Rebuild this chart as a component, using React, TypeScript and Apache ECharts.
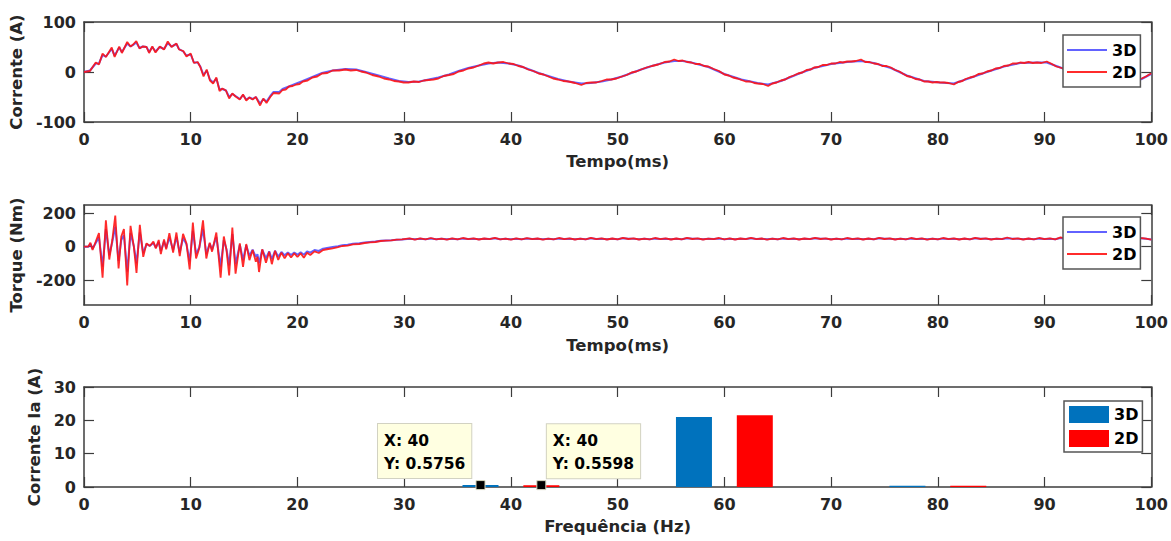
import React, { useEffect, useRef } from "react";
import * as echarts from "echarts";

// ---------- Phase current (A) vs time (ms) ----------
const current2D: [number, number][] = [
  [0, 0], [0.56, 2], [1.1, 19], [1.4, 15], [1.74, 37], [2.05, 30], [2.6, 49], [2.87, 30], [3.3, 51], [3.55, 38],
  [4.05, 60], [4.36, 51], [4.6, 55], [4.9, 62], [5.2, 47], [5.5, 51], [5.86, 50], [6.1, 38], [6.4, 51], [6.7, 39],
  [7.1, 51], [7.5, 45], [7.85, 61], [8.2, 50], [8.66, 57], [8.9, 45], [9.3, 42], [9.6, 31], [10.0, 37], [10.3, 18],
  [10.65, 20], [10.9, 10], [11.2, -9], [11.5, 5], [11.8, -17], [12.1, -23], [12.4, -11], [12.7, -38], [12.96, -33], [13.3, -37],
  [13.6, -53], [13.9, -43], [14.2, -49], [14.6, -55], [14.9, -45], [15.2, -57], [15.5, -51], [15.8, -55], [16.1, -50], [16.5, -67],
  [16.8, -53], [17.1, -62], [17.45, -50], [17.76, -42], [18.3, -43], [18.6, -36], [18.9, -35], [19.2, -29], [19.55, -28], [19.9, -25],
  [20.2, -24], [20.5, -19], [20.95, -17], [21.4, -11], [21.85, -9], [22.3, -3], [22.8, -2], [23.3, 3], [23.9, 3], [24.5, 5],
  [25.0, 3], [25.5, 4], [25.95, 1], [26.4, -1], [27.0, -6], [27.6, -9], [28.1, -13], [28.6, -15], [29.05, -18], [29.5, -19],
  [29.95, -21], [30.4, -21], [30.9, -19], [31.4, -20], [31.85, -17], [32.3, -16], [32.75, -15], [33.2, -13], [33.7, -8], [34.2, -6],
  [34.65, -4], [35.1, 1], [35.55, 3], [36.0, 7], [36.5, 9], [37.0, 13], [37.45, 17], [37.9, 19], [38.35, 17], [38.8, 19],
  [39.3, 20], [39.8, 17], [40.25, 16], [40.7, 12], [41.15, 10], [41.6, 5], [42.1, 2], [42.6, -3], [43.05, -5], [43.5, -9],
  [43.95, -13], [44.4, -15], [44.9, -18], [45.4, -19], [46.0, -22], [46.6, -26], [47.05, -22], [47.5, -21], [48.0, -21], [48.5, -18],
  [48.95, -15], [49.4, -15], [49.9, -13], [50.4, -9], [50.85, -6], [51.3, -1], [51.75, 1], [52.2, 5], [52.7, 9], [53.2, 12],
  [53.8, 15], [54.4, 20], [54.85, 21], [55.3, 25], [55.7, 22], [56.1, 23], [56.5, 20], [56.9, 19], [57.3, 16], [57.7, 16],
  [58.1, 12], [58.5, 11], [59.0, 6], [59.5, 2], [60.0, -5], [60.4, -7], [60.8, -11], [61.2, -13], [61.6, -16], [62.0, -19],
  [62.4, -19], [62.8, -22], [63.1, -23], [63.6, -24], [64.1, -28], [64.5, -23], [64.9, -21], [65.3, -17], [65.7, -15], [66.1, -10],
  [66.5, -7], [66.9, -3], [67.3, -1], [67.7, 4], [68.1, 5], [68.4, 9], [68.8, 10], [69.2, 14], [69.6, 14], [70.0, 17],
  [70.4, 17], [70.8, 20], [71.1, 19], [71.5, 21], [71.9, 21], [72.3, 22], [72.8, 25], [73.2, 20], [73.6, 20], [74.0, 17],
  [74.4, 16], [74.8, 12], [75.2, 12], [75.6, 9], [76.0, 4], [76.4, 1], [76.7, -3], [77.1, -8], [77.5, -10], [77.9, -14],
  [78.3, -15], [78.7, -19], [79.1, -19], [79.5, -21], [79.9, -20], [80.2, -21], [80.6, -21], [81.0, -22], [81.5, -25], [81.9, -20],
  [82.3, -18], [82.6, -14], [83.0, -11], [83.4, -9], [83.8, -4], [84.2, -3], [84.6, 1], [85.0, 3], [85.4, 7], [85.8, 8],
  [86.2, 12], [86.6, 13], [87.0, 17], [87.4, 17], [87.7, 19], [88.1, 18], [88.5, 20], [88.9, 18], [89.3, 19], [89.7, 18],
  [90.2, 21], [90.6, 17], [91.1, 11], [91.6, 8], [92.1, 3], [92.5, 0], [93.0, -3], [93.5, -8], [94.0, -12], [94.5, -15],
  [95.0, -18], [95.5, -20], [96.0, -21], [96.5, -23], [97.0, -24], [97.5, -22], [98.0, -22], [98.3, -20], [98.7, -16], [99.1, -13],
  [99.5, -9], [99.8, -5], [100, -3],
];

const current3D: [number, number][] = [
  [0, 0], [0.56, 3], [1.1, 17], [1.4, 17], [1.74, 34], [2.05, 31], [2.6, 46], [2.87, 33], [3.3, 49], [3.55, 40],
  [4.05, 57], [4.36, 51], [4.6, 54], [4.9, 59], [5.2, 48], [5.5, 51], [5.86, 50], [6.1, 40], [6.4, 50], [6.7, 41],
  [7.1, 50], [7.5, 46], [7.85, 58], [8.2, 51], [8.66, 56], [8.9, 46], [9.3, 41], [9.6, 33], [10.0, 35], [10.3, 19],
  [10.65, 19], [10.9, 11], [11.2, -6], [11.5, 3], [11.8, -15], [12.1, -21], [12.4, -13], [12.7, -35], [12.96, -34], [13.3, -37],
  [13.6, -50], [13.9, -44], [14.2, -48], [14.6, -54], [14.9, -46], [15.2, -55], [15.5, -51], [15.8, -54], [16.1, -50], [16.5, -63],
  [16.8, -54], [17.1, -59], [17.45, -48], [17.76, -40], [18.3, -40], [18.6, -34], [19.2, -29], [19.9, -23], [20.5, -18], [21.4, -10],
  [22.3, -2], [23.3, 3], [24.5, 6], [25.5, 5], [26.4, 0], [27.6, -7], [28.6, -13], [29.5, -18], [30.4, -20], [31.4, -19],
  [32.3, -15], [33.2, -11], [34.2, -5], [35.1, 2], [36.0, 8], [37.0, 13], [37.9, 17], [38.8, 19], [39.8, 17], [40.7, 13],
  [41.6, 6], [42.6, -2], [43.5, -8], [44.4, -14], [45.4, -19], [46.6, -23], [47.5, -22], [48.5, -19], [49.4, -15], [50.4, -9],
  [51.3, -2], [52.2, 5], [53.2, 12], [54.4, 19], [55.3, 22], [56.1, 22], [56.9, 19], [58.5, 10], [60.0, -4], [61.6, -15],
  [63.1, -22], [64.1, -25], [65.3, -18], [66.9, -4], [68.4, 8], [70.0, 16], [71.5, 20], [72.8, 22], [74.0, 18], [75.6, 8],
  [77.1, -7], [78.7, -18], [80.2, -21], [81.5, -23], [83.0, -12], [84.6, 0], [86.2, 11], [87.7, 18], [89.3, 19], [90.2, 19],
  [91.1, 12], [92.5, 1], [94.0, -11], [95.5, -19], [97.0, -23], [98.3, -20], [99.1, -14], [99.8, -6], [100, -4],
];

// ---------- Torque (Nm) vs time (ms) ----------
// start-up transient, irregular sampling
const torqueHead2D: [number, number][] = [
  [0, 0], [0.4, 0], [0.6, 24], [0.8, -20], [1.1, 30], [1.4, 81], [1.74, -186], [2.05, 158], [2.37, -77], [2.65, 40],
  [2.93, 186], [3.24, -131], [3.49, 61], [3.74, 105], [4.05, -232], [4.36, 125], [4.67, 0], [4.92, -158], [5.23, 131], [5.55, -61],
  [5.86, 20], [6.17, 4], [6.5, 30], [6.73, -10], [7.0, 40], [7.2, -44], [7.5, 44], [7.7, -16], [8.0, 81], [8.35, -36],
  [8.66, 85], [8.97, -57], [9.28, 77], [9.6, 20], [9.9, -137], [10.2, 145], [10.5, -71], [10.8, -10], [11.15, 158], [11.46, -71],
  [11.78, 24], [12.0, -30], [12.4, 85], [12.8, -186], [13.1, 61], [13.35, -20], [13.6, -172], [13.9, 115], [14.2, -162], [14.6, 20],
  [14.9, -121], [15.2, 16], [15.5, -81], [15.8, -20], [16.1, -91], [16.25, -60], [16.4, -152], [16.7, -16], [17.05, -97], [17.35, -30],
  [17.6, -105], [17.9, -25], [18.2, -80], [18.5, -36], [18.8, -70], [19.1, -40], [19.4, -65], [19.7, -40], [20.0, -62], [20.3, -40],
  [20.6, -66], [20.9, -36], [21.2, -50], [21.6, -28], [22.0, -38], [22.4, -20], [22.9, -14], [23.3, -10], [23.8, -3], [24.2, 4],
  [24.7, 6], [25.2, 14], [25.8, 16], [26.3, 22], [26.8, 26], [27.3, 28], [27.8, 34], [28.3, 36], [28.8, 38], [29.3, 42],
  [29.8, 44],
];

const torqueHead3D: [number, number][] = [
  [0, 0], [0.4, 0], [0.6, 16], [0.8, -12], [1.1, 22], [1.4, 55], [1.74, -120], [2.05, 105], [2.37, -50], [2.65, 28],
  [2.93, 120], [3.24, -85], [3.49, 40], [3.74, 70], [4.05, -150], [4.36, 82], [4.67, 2], [4.92, -100], [5.23, 86], [5.55, -38],
  [5.86, 15], [6.17, 5], [6.5, 22], [6.73, -5], [7.0, 28], [7.2, -26], [7.5, 32], [7.7, -8], [8.0, 55], [8.35, -20],
  [8.66, 58], [8.97, -35], [9.28, 52], [9.6, 15], [9.9, -88], [10.2, 95], [10.5, -45], [10.8, -5], [11.15, 105], [11.46, -45],
  [11.78, 18], [12.0, -18], [12.4, 58], [12.8, -120], [13.1, 40], [13.35, -15], [13.6, -112], [13.9, 75], [14.2, -105], [14.6, 12],
  [14.9, -80], [15.2, 8], [15.5, -55], [15.8, -18], [16.1, -62], [16.25, -45], [16.4, -100], [16.7, -18], [17.05, -70], [17.35, -28],
  [17.6, -75], [17.9, -25], [18.2, -60], [18.5, -32], [18.8, -52], [19.1, -35], [19.4, -50], [19.7, -35], [20.0, -48], [20.3, -33],
  [20.6, -48], [20.9, -28], [21.2, -36], [21.6, -20], [22.0, -26], [22.4, -12], [22.9, -6], [23.3, -2], [23.8, 3], [24.2, 8],
  [24.7, 12], [25.2, 17], [25.8, 21], [26.3, 25], [26.8, 28], [27.3, 31], [27.8, 35], [28.3, 37], [28.8, 39], [29.3, 42],
  [29.8, 43],
];

// steady-state ripple, sampled every 0.5 ms from 30.5 ms to 100 ms
const torqueTailStart = 30.5;
const torqueTailStep = 0.5;
const torqueTail2D = [
  50, 42, 50, 44, 52, 44, 48, 42, 50, 44,
  52, 45, 50, 43, 49, 45, 53, 44, 48, 42,
  50, 44, 51, 45, 49, 42, 48, 44, 52, 45,
  50, 43, 48, 44, 53, 45, 50, 43, 49, 44,
  53, 46, 50, 43, 48, 44, 52, 45, 50, 43,
  49, 44, 53, 46, 50, 43, 48, 45, 52, 44,
  50, 43, 49, 45, 53, 45, 49, 42, 48, 44,
  52, 45, 50, 43, 49, 45, 53, 46, 50, 43,
  48, 44, 52, 45, 50, 43, 49, 44, 53, 46,
  50, 43, 48, 44, 52, 45, 50, 42, 48, 44,
  52, 45, 50, 43, 49, 44, 53, 46, 50, 43,
  48, 45, 55, 46, 50, 43, 49, 44, 52, 45,
  50, 44, 56, 48, 58, 50, 55, 46, 52, 45,
  50, 46, 54, 48, 56, 50, 58, 52, 48, 42,
];
const torqueTail3D = [
  47, 44, 48, 45, 49, 45, 47, 44, 48, 45,
  49, 46, 48, 45, 48, 46, 50, 45, 47, 44,
  48, 45, 49, 46, 48, 44, 47, 45, 49, 46,
  48, 45, 47, 45, 50, 46, 48, 45, 48, 45,
  50, 47, 48, 45, 47, 45, 49, 46, 48, 45,
  48, 45, 50, 47, 48, 45, 47, 46, 49, 45,
  48, 45, 48, 46, 50, 46, 48, 44, 47, 45,
  49, 46, 48, 45, 48, 46, 50, 47, 48, 45,
  47, 45, 49, 46, 48, 45, 48, 45, 50, 47,
  48, 45, 47, 45, 49, 46, 48, 44, 47, 45,
  49, 46, 48, 45, 48, 45, 50, 47, 48, 45,
  47, 46, 51, 47, 48, 45, 48, 45, 49, 46,
  48, 45, 52, 48, 54, 49, 52, 47, 50, 46,
  48, 46, 51, 48, 53, 49, 55, 51, 47, 43,
];

// ---------- Harmonic spectrum of phase current Ia ----------
const freqs = [40, 60, 80];
const ia3D = [0.5756, 21.0, 0.4];
const ia2D = [0.5598, 21.5, 0.4];
const tipFreq = 40;

// ---------- tick labels / names ----------
const timeTicks = { min: 0, max: 100, step: 10 };
const torqueTickValues = [-200, 0, 200];

const FONT = '"DejaVu Sans", sans-serif';
const AXIS_COLOR = "#3c3c3c";
const TEXT_COLOR = "#262626";
const BLUE_LINE = "rgba(70, 70, 255, 0.85)";
const RED_LINE = "rgba(255, 20, 20, 0.9)";
const BAR_BLUE = "#0072BD";
const BAR_RED = "#FF0000";

const withTail = (head: [number, number][], tail: number[]): [number, number][] =>
  head.concat(tail.map((v, i) => [torqueTailStart + i * torqueTailStep, v] as [number, number]));

const GRID_LEFT = 84;
const GRID_WIDTH = 1071;
const grids = [
  { left: GRID_LEFT, top: 22, width: GRID_WIDTH, height: 100 },
  { left: GRID_LEFT, top: 205, width: GRID_WIDTH, height: 100 },
  { left: GRID_LEFT, top: 387, width: GRID_WIDTH, height: 100 },
];

const lineStyleAxis = { color: AXIS_COLOR, width: 1.5 };
const tickStyle = { show: true, inside: true, length: 10, lineStyle: { color: AXIS_COLOR, width: 1.2 } };
const labelStyle = { fontFamily: FONT, fontWeight: "bold" as const, fontSize: 16, color: TEXT_COLOR };
const nameStyle = { fontFamily: FONT, fontWeight: "bold" as const, fontSize: 16.5, color: TEXT_COLOR };

function xAxisPair(gridIndex: number, name: string, nameGap: number) {
  return [
    {
      type: "value", gridIndex, position: "bottom",
      min: timeTicks.min, max: timeTicks.max, interval: timeTicks.step,
      name, nameLocation: "middle", nameGap, nameTextStyle: nameStyle,
      axisLine: { show: true, onZero: false, lineStyle: lineStyleAxis },
      axisTick: tickStyle,
      axisLabel: { ...labelStyle, margin: 9 },
      splitLine: { show: false },
    },
    {
      type: "value", gridIndex, position: "top",
      min: timeTicks.min, max: timeTicks.max, interval: timeTicks.step,
      axisLine: { show: true, onZero: false, lineStyle: lineStyleAxis },
      axisTick: tickStyle,
      axisLabel: { show: false },
      splitLine: { show: false },
    },
  ];
}

function yAxisPair(gridIndex: number, name: string, nameGap: number, scale: any) {
  return [
    {
      type: "value", gridIndex, position: "left", ...scale.axis,
      name, nameLocation: "middle", nameGap, nameRotate: 90, nameTextStyle: nameStyle,
      axisLine: { show: true, onZero: false, lineStyle: lineStyleAxis },
      axisTick: { ...tickStyle, ...(scale.tick || {}) },
      axisLabel: { ...labelStyle, margin: 8, ...(scale.label || {}) },
      splitLine: { show: false },
    },
    {
      type: "value", gridIndex, position: "right", ...scale.axis,
      axisLine: { show: true, onZero: false, lineStyle: lineStyleAxis },
      axisTick: { ...tickStyle, ...(scale.tick || {}) },
      axisLabel: { show: false },
      splitLine: { show: false },
    },
  ];
}

const legendBase = {
  orient: "vertical",
  selectedMode: false,
  backgroundColor: "#ffffff",
  borderColor: "#555555",
  borderWidth: 1.5,
  borderRadius: 0,
  itemWidth: 40,
  icon: "rect",
  formatter: (n: string) => n.split(" ").pop(),
  textStyle: { fontFamily: FONT, fontWeight: "bold" as const, fontSize: 16, color: "#000", lineHeight: 18 },
};

const tipLabel = {
  show: true,
  align: "left",
  verticalAlign: "top",
  backgroundColor: "#ffffe1",
  borderColor: "#d2d2c2",
  borderWidth: 1,
  padding: [5, 6, 3, 6],
  lineHeight: 23,
  fontFamily: FONT,
  fontWeight: "bold",
  fontSize: 15.5,
  color: "#000",
};

function buildOption() {
  const tipIdx = freqs.indexOf(tipFreq);
  const ia3DTip = ia3D[tipIdx];
  const ia2DTip = ia2D[tipIdx];
  return {
    animation: false,
    backgroundColor: "#ffffff",
    grid: grids,
    xAxis: [
      ...xAxisPair(0, "Tempo(ms)", 31),
      ...xAxisPair(1, "Tempo(ms)", 32),
      ...xAxisPair(2, "Frequência (Hz)", 31),
    ],
    yAxis: [
      ...yAxisPair(0, "Corrente (A)", 57, { axis: { min: -100, max: 100, interval: 100 } }),
      ...yAxisPair(1, "Torque (Nm)", 57, {
        axis: { min: -350, max: 250 },
        tick: { customValues: torqueTickValues },
        label: { customValues: torqueTickValues },
      }),
      ...yAxisPair(2, "Corrente Ia (A)", 39, { axis: { min: 0, max: 30, interval: 10 } }),
    ],
    legend: [
      {
        ...legendBase, left: 1063, top: 35, padding: [6, 4, 6, 4], itemHeight: 2, itemGap: 4,
        data: ["Corrente 3D", "Corrente 2D"],
      },
      {
        ...legendBase, left: 1063, top: 217, padding: [6, 4, 6, 4], itemHeight: 2, itemGap: 4,
        data: ["Torque 3D", "Torque 2D"],
      },
      {
        ...legendBase, left: 1064, top: 401, padding: [5, 4, 5, 5], itemHeight: 17, itemGap: 7,
        textStyle: { ...legendBase.textStyle, lineHeight: 17 },
        data: ["Ia 3D", "Ia 2D"],
      },
    ],
    series: [
      {
        name: "Corrente 3D", type: "line", xAxisIndex: 0, yAxisIndex: 0,
        data: current3D, symbol: "none", lineStyle: { color: BLUE_LINE, width: 2 }, itemStyle: { color: BLUE_LINE },
      },
      {
        name: "Corrente 2D", type: "line", xAxisIndex: 0, yAxisIndex: 0,
        data: current2D, symbol: "none", lineStyle: { color: RED_LINE, width: 1.8 }, itemStyle: { color: RED_LINE },
      },
      {
        name: "Torque 3D", type: "line", xAxisIndex: 2, yAxisIndex: 2,
        data: withTail(torqueHead3D, torqueTail3D), symbol: "none",
        lineStyle: { color: BLUE_LINE, width: 2 }, itemStyle: { color: BLUE_LINE },
      },
      {
        name: "Torque 2D", type: "line", xAxisIndex: 2, yAxisIndex: 2,
        data: withTail(torqueHead2D, torqueTail2D), symbol: "none",
        lineStyle: { color: RED_LINE, width: 1.8 }, itemStyle: { color: RED_LINE },
      },
      {
        name: "Ia 3D", type: "bar", xAxisIndex: 4, yAxisIndex: 4,
        data: freqs.map((f, i) => [f, ia3D[i]]),
        barWidth: 36, barGap: "69%", itemStyle: { color: BAR_BLUE },
        markPoint: {
          silent: true,
          symbol: "rect", symbolSize: 9,
          itemStyle: { color: "#000", borderColor: "#d8d8c0", borderWidth: 1 },
          label: { ...tipLabel, position: [-97.5, -56], formatter: `X: ${tipFreq}\nY: ${ia3DTip}` },
          data: [{ coord: [tipFreq, ia3DTip] }],
        },
      },
      {
        name: "Ia 2D", type: "bar", xAxisIndex: 4, yAxisIndex: 4,
        data: freqs.map((f, i) => [f, ia2D[i]]),
        barWidth: 36, barGap: "69%", itemStyle: { color: BAR_RED },
        markPoint: {
          silent: true,
          symbol: "rect", symbolSize: 9,
          itemStyle: { color: "#000", borderColor: "#d8d8c0", borderWidth: 1 },
          label: { ...tipLabel, position: [10.5, -56], formatter: `X: ${tipFreq}\nY: ${ia2DTip}` },
          data: [{ coord: [tipFreq, ia2DTip] }],
        },
      },
    ],
  };
}

export default function App() {
  const ref = useRef<HTMLDivElement>(null);
  useEffect(() => {
    if (!ref.current) return;
    const chart = echarts.init(ref.current, null, { renderer: "svg" });
    chart.setOption(buildOption() as any);
    return () => chart.dispose();
  }, []);
  return (
    <div
      ref={ref}
      style={{ position: "fixed", left: 0, top: 0, width: 1171, height: 541, background: "#fff" }}
    />
  );
}
